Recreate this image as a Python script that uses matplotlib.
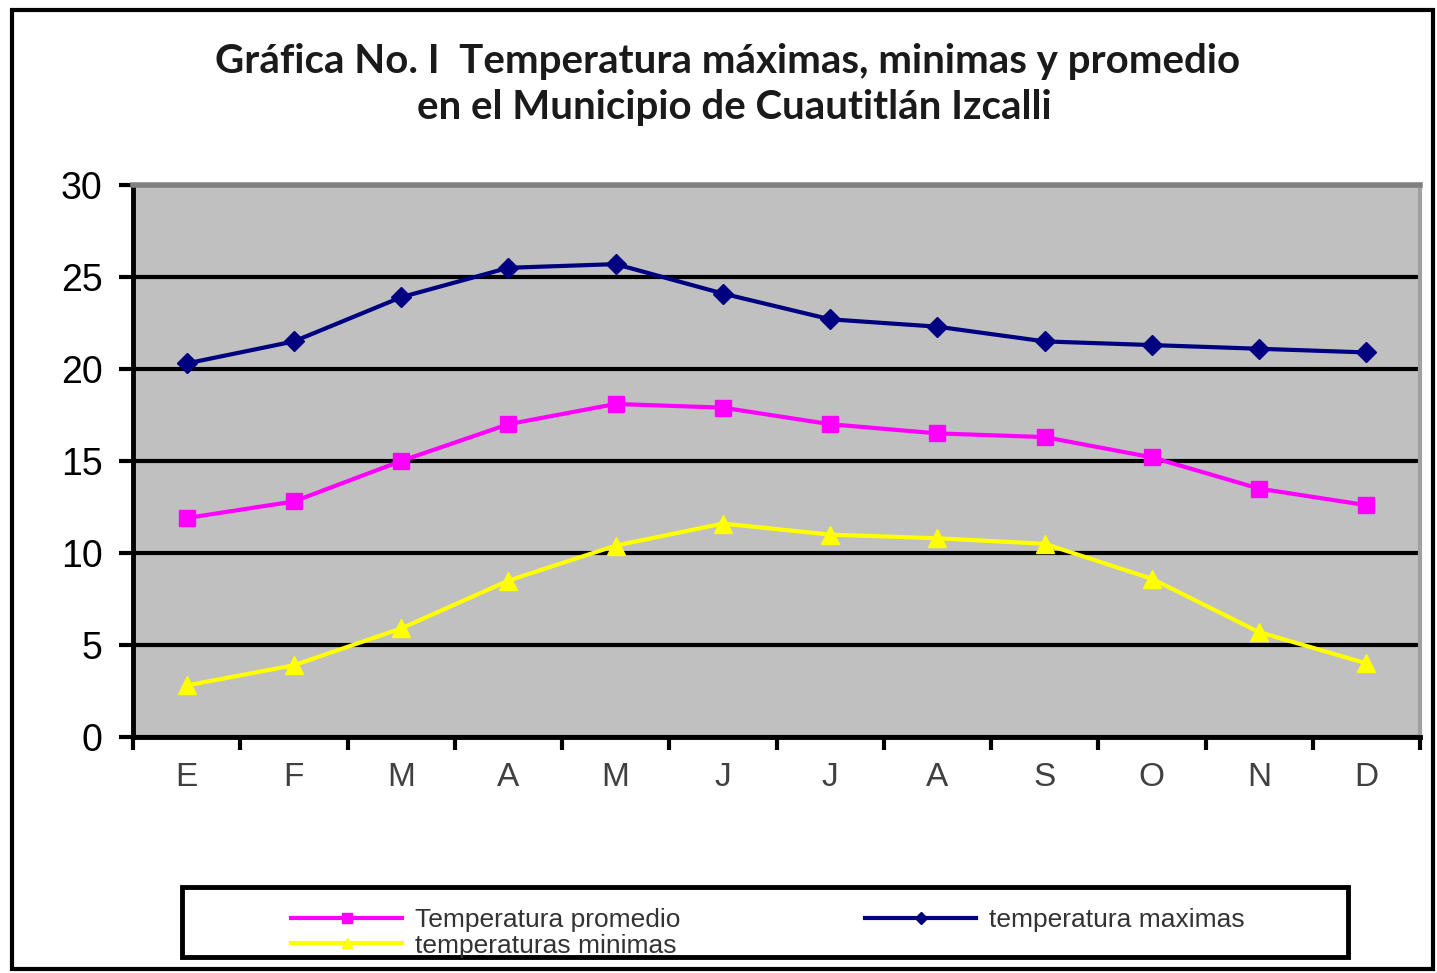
import numpy as np
import matplotlib.pyplot as plt
from matplotlib.patches import Rectangle

# Meses y temperaturas mensuales (°C)
meses = ['E', 'F', 'M', 'A', 'M', 'J', 'J', 'A', 'S', 'O', 'N', 'D']
temp_max = [20.3, 21.5, 23.9, 25.5, 25.7, 24.1, 22.7, 22.3, 21.5, 21.3, 21.1, 20.9]
temp_prom = [11.9, 12.8, 15.0, 17.0, 18.1, 17.9, 17.0, 16.5, 16.3, 15.2, 13.5, 12.6]
temp_min = [2.8, 3.9, 5.9, 8.5, 10.4, 11.6, 11.0, 10.8, 10.5, 8.6, 5.7, 4.0]

W, H = 1437, 973
fig = plt.figure(figsize=(W / 100, H / 100), dpi=100)
fig.patch.set_facecolor('white')

# marco exterior
fig.patches.append(Rectangle((12 / W, 0.004), (W - 16) / W, (H - 14) / H,
                             transform=fig.transFigure, fill=False,
                             edgecolor='black', linewidth=3))

ax = fig.add_axes([133 / W, 1 - 737 / H, (1420 - 133) / W, (737 - 185) / H])
ax.set_facecolor('#c0c0c0')

x = np.arange(len(meses))
l_prom, = ax.plot(x, temp_prom, color='#ff00ff', linewidth=3, marker='s',
                  markersize=11, label='Temperatura promedio')
l_max, = ax.plot(x, temp_max, color='#000080', linewidth=3, marker='D',
                 markersize=10, label='temperatura maximas')
l_min, = ax.plot(x, temp_min, color='#ffff00', linewidth=3, marker='^',
                 markersize=13, label='temperaturas minimas')

ax.set_xlim(-0.5, 11.5)
ax.set_ylim(0, 30)
ax.set_yticks(range(0, 31, 5))
ax.set_xticks(x)
ax.set_xticklabels(meses)
ax.set_xticks(np.arange(-0.5, 12, 1), minor=True)
ax.tick_params(axis='x', which='major', length=0, pad=18, labelsize=24,
               labelcolor='#404040')
ax.tick_params(axis='x', which='minor', length=9, width=3, direction='out')
ax.tick_params(axis='y', length=10, width=3, labelsize=27, pad=12)
for lbl in ax.get_xticklabels() + ax.get_yticklabels():
    lbl.set_family('Liberation Sans')

ax.grid(True, axis='y', color='black', linewidth=3)
ax.set_axisbelow(True)
ax.spines['left'].set_linewidth(3.5)
ax.spines['bottom'].set_linewidth(3.5)
ax.spines['top'].set_color('#808080')
ax.spines['top'].set_linewidth(4)
ax.spines['right'].set_color('#a0a0a0')
ax.spines['right'].set_linewidth(3)

fig.text(0.506, 1 - 62 / H,
         'Gráfica No. I  Temperatura máximas, minimas y promedio',
         ha='center', va='center', fontsize=29, fontweight='bold',
         family='Lato', color='#1a1a1a')
fig.text(0.511, 1 - 108 / H, 'en el Municipio de Cuautitlán Izcalli',
         ha='center', va='center', fontsize=29, fontweight='bold',
         family='Lato', color='#1a1a1a')

# recuadro de la leyenda
fig.patches.append(Rectangle((182 / W, 1 - 957 / H), (1348 - 182) / W, 70 / H,
                             transform=fig.transFigure, fill=True,
                             facecolor='white', edgecolor='black',
                             linewidth=3.5, zorder=1))

leg = fig.legend(handles=[l_prom, l_min, l_max], loc='upper left', ncol=2,
                 bbox_to_anchor=(278 / W, 1 - 895 / H),
                 frameon=False, prop={'family': 'Liberation Sans', 'size': 19},
                 handlelength=4.2, handletextpad=0.5, borderpad=0,
                 labelspacing=0.05, columnspacing=7.0, markerscale=0.6)
for t in leg.get_texts():
    t.set_color('#333333')

fig.savefig('out.png', dpi=100, facecolor='white')
